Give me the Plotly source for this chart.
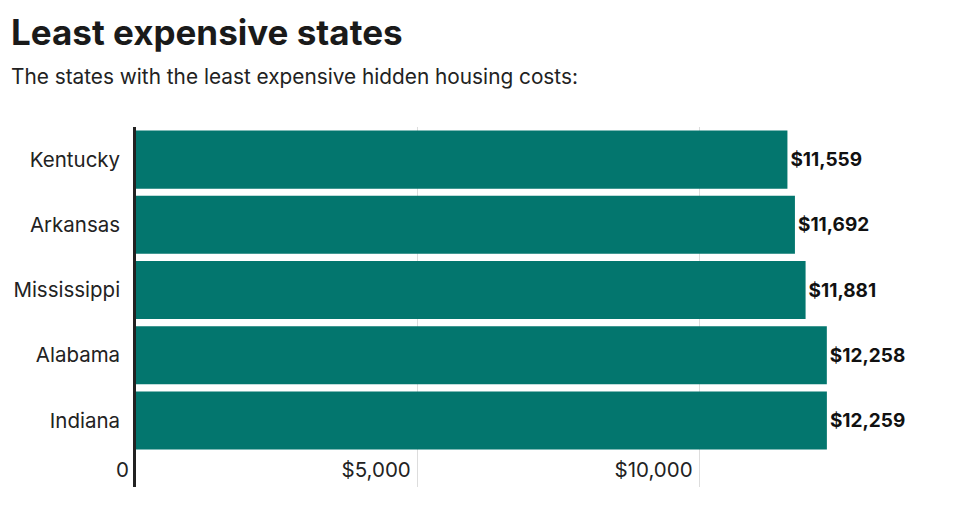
import plotly.graph_objects as go

states = ["Kentucky", "Arkansas", "Mississippi", "Alabama", "Indiana"]
costs = [11559, 11692, 11881, 12258, 12259]
tick_vals = [0, 5000, 10000]
tick_text = ["0", "$5,000", "$10,000"]

title_text = "Least expensive states"
subtitle_text = "The states with the least expensive hidden housing costs:"

W, H = 959, 521
L, R, T, B = 136, 34, 127, 34
plot_h = H - T - B
plot_w = W - L - R
FONT = "Inter"

fig = go.Figure(
    go.Bar(
        x=costs,
        y=states,
        orientation="h",
        marker=dict(color="#03766e", line=dict(width=0)),
        texttemplate="<b>$%{x:,}</b>",
        textposition="outside",
        textfont=dict(family=FONT, size=19, color="#111111"),
        cliponaxis=False,
        hoverinfo="skip",
    )
)

fig.update_layout(
    width=W,
    height=H,
    margin=dict(l=L, r=R, t=T, b=B),
    paper_bgcolor="white",
    plot_bgcolor="white",
    bargap=0.11,
    showlegend=False,
    font=dict(family=FONT, size=18, color="#222222"),
    title=dict(
        text=f"<b>{title_text}</b>",
        font=dict(family=FONT, size=35, color="#1a1a1a"),
        xref="container",
        yref="container",
        x=11 / W,
        xanchor="left",
        y=1 - 33 / H,
        yanchor="middle",
    ),
    annotations=[
        dict(
            text=subtitle_text,
            xref="paper",
            yref="paper",
            x=(9 - L) / plot_w,
            y=(H - B - 76) / plot_h,
            xanchor="left",
            yanchor="middle",
            showarrow=False,
            font=dict(family=FONT, size=20.8, color="#222222"),
        )
    ],
    xaxis=dict(
        range=[0, 14000],
        tickvals=tick_vals,
        ticktext=tick_text,
        ticklabelposition="inside left",
        ticklabeloverflow="allow",
        ticklabelshift=-7,
        showgrid=True,
        gridcolor="#dddddd",
        gridwidth=1,
        zeroline=False,
        showline=False,
        ticks="",
        automargin=False,
        tickfont=dict(family=FONT, size=20.5, color="#222222"),
        fixedrange=True,
    ),
    yaxis=dict(
        categoryorder="array",
        categoryarray=states,
        range=[5.02, -0.5],
        showline=True,
        linecolor="#222222",
        linewidth=2.5,
        showgrid=False,
        zeroline=False,
        ticks="",
        automargin=False,
        ticklabelstandoff=9,
        tickfont=dict(family=FONT, size=20.5, color="#222222"),
        fixedrange=True,
    ),
)

fig.write_html(
    "out.html",
    config={"displayModeBar": False},
    post_script="document.body.style.margin='0';",
)
